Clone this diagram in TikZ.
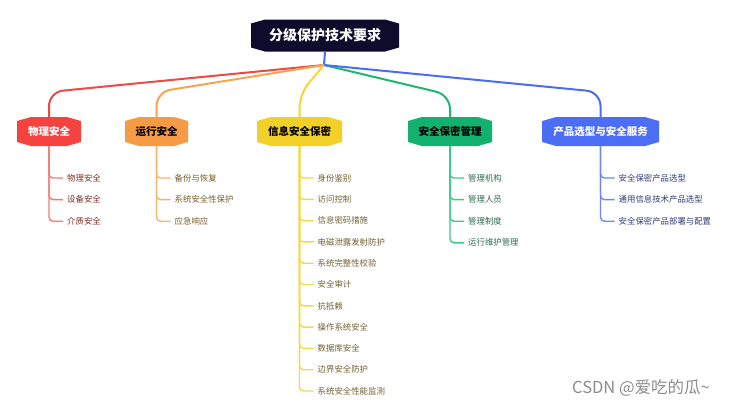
\documentclass[tikz,border=0pt]{standalone}
\usepackage{fontspec}
\setmainfont{Noto Sans CJK SC}
\definecolor{rootF}{HTML}{0E0B2D}
\definecolor{redF}{HTML}{F5443F}
\definecolor{oraF}{HTML}{F59B45}
\definecolor{yelF}{HTML}{F1D128}
\definecolor{grnF}{HTML}{12B26E}
\definecolor{bluF}{HTML}{4C6EF5}
\definecolor{redL}{HTML}{F04842}
\definecolor{oraL}{HTML}{F7A350}
\definecolor{yelL}{HTML}{F5D532}
\definecolor{grnL}{HTML}{1DB86F}
\definecolor{bluL}{HTML}{4A6CF5}
\definecolor{redS}{HTML}{F57A75}
\definecolor{oraS}{HTML}{F8B26A}
\definecolor{yelS}{HTML}{F5D84A}
\definecolor{grnS}{HTML}{3CC98A}
\definecolor{bluS}{HTML}{6B86F7}
\definecolor{redT}{HTML}{7B2C24}
\definecolor{oraT}{HTML}{7A5B2E}
\definecolor{yelT}{HTML}{6E6030}
\definecolor{grnT}{HTML}{2D6B4B}
\definecolor{bluT}{HTML}{2F3B78}
\tikzset{
  hexnode/.style={inner sep=0pt, minimum height=29pt, font=\bfseries\fontsize{10.5}{12}\selectfont,
    path picture={\fill[#1]
      ([yshift=-4pt]path picture bounding box.north west) --
      ([xshift=14pt]path picture bounding box.north west) --
      ([xshift=-14pt]path picture bounding box.north east) --
      ([yshift=-4pt]path picture bounding box.north east) --
      ([yshift=4pt]path picture bounding box.south east) --
      ([xshift=-14pt]path picture bounding box.south east) --
      ([xshift=14pt]path picture bounding box.south west) --
      ([yshift=4pt]path picture bounding box.south west) -- cycle;}},
  mainline/.style={line width=2pt, rounded corners=14pt},
  subline/.style={line width=1.4pt, rounded corners=4pt},
  leaf/.style={anchor=west, inner xsep=4pt, inner ysep=1pt, font=\fontsize{8.4}{10}\selectfont},
}
\begin{document}
\begin{tikzpicture}[x=1pt,y=-1pt]
\useasboundingbox (0,0) rectangle (734,410);
% root
\node[hexnode=rootF, minimum width=148pt, minimum height=32pt, text=white,
  font=\bfseries\fontsize{14}{16}\selectfont] (root) at (325,35.5) {分级保护技术要求};
\coordinate (J) at (324,65);
% categories
\node[hexnode=redF, minimum width=64pt, text=white] (c1) at (49,131.5) {物理安全};
\node[hexnode=oraF, minimum width=63pt, text=black] (c2) at (156.5,131.5) {运行安全};
\node[hexnode=yelF, minimum width=85pt, text=black] (c3) at (299.5,131.5) {信息安全保密};
\node[hexnode=grnF, minimum width=84pt, text=black] (c4) at (450,131.5) {安全保密管理};
\node[hexnode=bluF, minimum width=117pt, text=white] (c5) at (600.5,131.5) {产品选型与安全服务};
% main connectors
\draw[bluL, line width=2pt] (root.south) -- (J);
\draw[mainline, redL] (J) -- (49,92) -- (c1.north);
\draw[mainline, oraL] (J) -- (156.5,92) -- (c2.north);
\draw[mainline, yelL] (J) -- (299.5,94) -- (c3.north);
\draw[mainline, grnL] (J) -- (450,95) -- (c4.north);
\draw[mainline, bluL] (J) -- (600.5,92) -- (c5.north);
% children
\foreach \t [count=\i] in {物理安全,设备安全,介质安全} {
  \node[leaf, text=redT] (r\i) at (63,178+21.6*\i-21.6) {\t};
  \draw[subline, redS] (c1.south) |- (r\i.west);
}
\foreach \t [count=\i] in {备份与恢复,系统安全性保护,应急响应} {
  \node[leaf, text=oraT] (o\i) at (170.5,178+21.6*\i-21.6) {\t};
  \draw[subline, oraS] (c2.south) |- (o\i.west);
}
\foreach \t [count=\i] in {身份鉴别,访问控制,信息密码措施,电磁泄露发射防护,系统完整性校验,安全审计,抗抵赖,操作系统安全,数据库安全,边界安全防护,系统安全性能监测} {
  \node[leaf, text=yelT] (y\i) at (313.5,178+21.3*\i-21.3) {\t};
  \draw[subline, yelS] (c3.south) |- (y\i.west);
}
\foreach \t [count=\i] in {管理机构,管理人员,管理制度,运行维护管理} {
  \node[leaf, text=grnT] (g\i) at (464,178+21.6*\i-21.6) {\t};
  \draw[subline, grnS] (c4.south) |- (g\i.west);
}
\foreach \t [count=\i] in {安全保密产品选型,通用信息技术产品选型,安全保密产品部署与配置} {
  \node[leaf, text=bluT] (b\i) at (614.5,178+21.6*\i-21.6) {\t};
  \draw[subline, bluS] (c5.south) |- (b\i.west);
}
% watermark
\node[text=black!45, font=\fontsize{16.5}{18}\selectfont] (wm) at (641,388) {CSDN @爱吃的瓜\textasciitilde};
\end{tikzpicture}
\end{document}
